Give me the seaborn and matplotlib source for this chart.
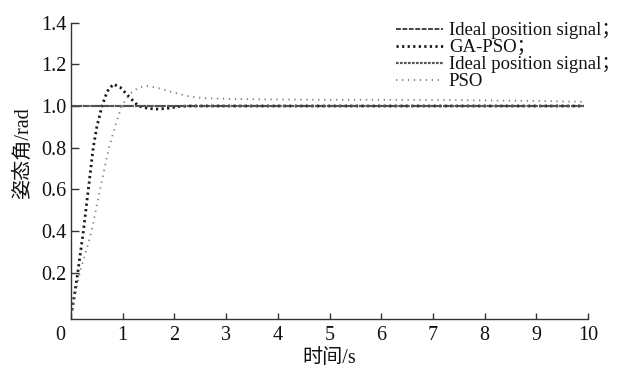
import matplotlib
matplotlib.use("Agg")
import matplotlib.pyplot as plt
import matplotlib.transforms as mtransforms
import numpy as np
import pandas as pd
import seaborn as sns

# Step responses of the attitude angle
t_ideal = [0.0, 9.92]
v_ideal = [1.0, 1.0]

t_gapso = [0.02, 0.07, 0.13, 0.24, 0.335, 0.43, 0.50, 0.60, 0.70, 0.82, 0.95,
           1.10, 1.30, 1.50, 1.70, 1.90, 2.10, 2.30, 4.0, 6.0, 8.0, 9.92]
v_gapso = [0.02, 0.10, 0.20, 0.40, 0.60, 0.80, 0.90, 1.00, 1.07, 1.105, 1.09,
           1.05, 1.00, 0.988, 0.985, 0.99, 0.998, 1.0, 1.0, 1.0, 1.0, 1.0]

t_pso = [0.02, 0.08, 0.17, 0.40, 0.56, 0.735, 0.85, 0.98, 1.15, 1.30, 1.46, 1.70,
         2.00, 2.30, 2.60, 3.08, 4.0, 5.0, 5.8, 7.0, 8.0, 9.0, 9.92]
v_pso = [0.02, 0.09, 0.20, 0.40, 0.60, 0.80, 0.90, 1.00, 1.06, 1.088, 1.097, 1.085,
         1.064, 1.045, 1.037, 1.034, 1.031, 1.030, 1.030, 1.029, 1.027, 1.024, 1.020]

labels = ["Ideal position signal；", "GA-PSO；", "Ideal position signal；", "PSO"]
x_ticks = list(range(0, 11))
y_ticks = [0.2, 0.4, 0.6, 0.8, 1.0, 1.2, 1.4]

sns.set_theme(style="ticks")
serif = ["Liberation Serif", "Noto Sans CJK SC", "DejaVu Sans"]
plt.rcParams["font.family"] = serif
plt.rcParams["axes.unicode_minus"] = False

fig = plt.figure(figsize=(6.28, 3.74), dpi=100)
ax = fig.add_axes([71 / 628, 1 - 319 / 374, (588 - 71) / 628, (319 - 22.6) / 374])

sns.lineplot(x=t_ideal, y=v_ideal, ax=ax, color="#444444", lw=1.4,
             label=labels[0])
ax.lines[-1].set_dashes([2.5, 0.8])
sns.lineplot(x=t_gapso, y=v_gapso, ax=ax, color="#1a1a1a", lw=2.0,
             label=labels[1])
ax.lines[-1].set_dashes([0.8, 1.2])
sns.lineplot(x=t_ideal, y=v_ideal, ax=ax, color="#555555", lw=1.6,
             label=labels[2])
ax.lines[-1].set_dashes([1.2, 0.6])
sns.lineplot(x=t_pso, y=v_pso, ax=ax, color="#7a7a7a", lw=1.3,
             label=labels[3])
ax.lines[-1].set_dashes([0.7, 2.6])

ax.set_xlim(0, 10)
ax.set_ylim(-0.0216, 1.4)
ax.set_xticks(x_ticks)
ax.set_yticks(y_ticks)
ax.set_xticklabels([str(v) for v in x_ticks])
ax.set_yticklabels([f"{v:.1f}" for v in y_ticks])

sns.despine(ax=ax)
for side in ("left", "bottom"):
    ax.spines[side].set_color("#333333")
    ax.spines[side].set_linewidth(1.0)
ax.tick_params(axis="x", direction="in", length=4, width=1, color="#333333",
               pad=5, labelsize=14.5, labelcolor="#111111")
ax.tick_params(axis="y", direction="in", length=6, width=1, color="#333333",
               pad=3, labelsize=14.5, labelcolor="#111111")

# the origin label sits slightly left of the corner
lbl0 = ax.get_xticklabels()[0]
lbl0.set_transform(lbl0.get_transform() +
                   mtransforms.ScaledTranslation(-11 / 100, 0, fig.dpi_scale_trans))

ax.set_xlabel("时间/s", fontsize=14.5, color="#111111", labelpad=3)
ax.set_ylabel("姿态角/rad", fontsize=14.5, color="#111111")
ax.yaxis.set_label_coords(-0.073, 0.56)

leg = ax.legend(loc="upper right", bbox_to_anchor=(620 / 628, 1 - 22 / 374),
                bbox_transform=fig.transFigure, frameon=False, fontsize=13.5,
                handlelength=2.5, handletextpad=0.3, labelspacing=0.0,
                borderpad=0, borderaxespad=0)
for txt in leg.get_texts():
    txt.set_color("#111111")

fig.savefig("out.png", dpi=100, facecolor="white")
